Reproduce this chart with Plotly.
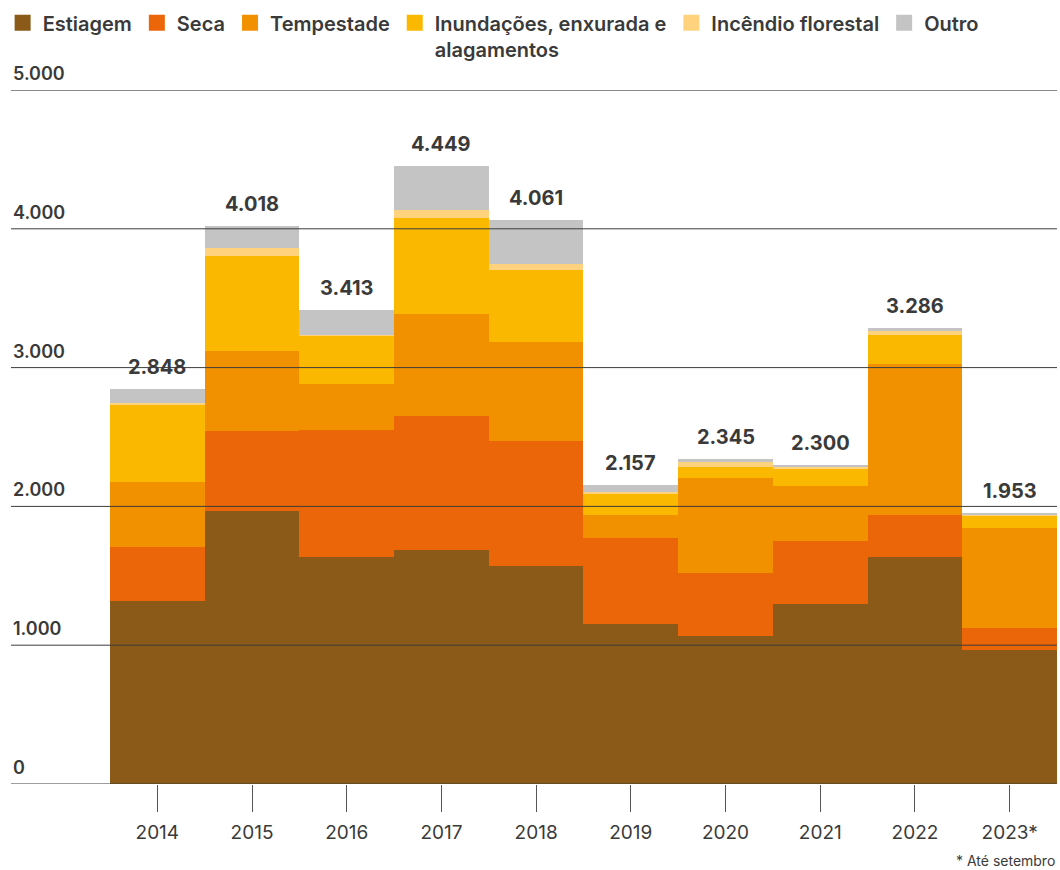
import plotly.graph_objects as go

anos = ["2014", "2015", "2016", "2017", "2018", "2019", "2020", "2021", "2022", "2023*"]
estiagem = [1317, 1964, 1633, 1683, 1568, 1152, 1066, 1295, 1633, 965]
seca = [388, 581, 920, 970, 906, 618, 452, 453, 302, 158]
tempestade = [474, 575, 330, 733, 711, 165, 690, 402, 1092, 718]
inundacoes = [553, 683, 345, 690, 517, 158, 79, 122, 208, 93]
incendio = [14, 57, 7, 57, 43, 14, 36, 15, 29, 5]
outro = [102, 158, 178, 316, 316, 50, 22, 13, 22, 14]
totais = [2848, 4018, 3413, 4449, 4061, 2157, 2345, 2300, 3286, 1953]

y_ticks = [0, 1000, 2000, 3000, 4000, 5000]
y_labels = ["0", "1.000", "2.000", "3.000", "4.000", "5.000"]

series = [
    ("Estiagem", estiagem, "#8B5A18"),
    ("Seca", seca, "#EB6608"),
    ("Tempestade", tempestade, "#F29100"),
    ("Inundações, enxurada e<br>alagamentos", inundacoes, "#FBB800"),
    ("Incêndio florestal", incendio, "#FFD37E"),
    ("Outro", outro, "#C4C4C4"),
]

txt = "#3a3a3a"
font = "Inter"

fig = go.Figure()
for nome, vals, cor in series:
    fig.add_trace(go.Bar(x=anos, y=vals, marker=dict(color=cor, line=dict(width=0)),
                         showlegend=False, hoverinfo="skip"))
# legend entries with larger square swatches
for nome, vals, cor in series:
    fig.add_trace(go.Scatter(x=[None], y=[None], mode="markers", name=nome,
                             marker=dict(symbol="square", size=16, color=cor)))

anns = []
# totals above the bars (x given as category index)
for i, t in enumerate(totais):
    anns.append(dict(x=i, y=t, text="<b>" + f"{t:,}".replace(",", ".") + "</b>",
                     showarrow=False, yanchor="bottom", yshift=8,
                     font=dict(family=font, size=20, color=txt)))
for v, lab in zip(y_ticks, y_labels):
    anns.append(dict(x=0, xref="paper", y=v, text=lab, showarrow=False,
                     xanchor="left", yanchor="bottom", yshift=4,
                     font=dict(family=font, size=18, color=txt, weight=600)))
anns.append(dict(x=1, xref="paper", y=0, yref="paper", text="* Até setembro",
                 showarrow=False, xanchor="right", yanchor="top", yshift=-66,
                 font=dict(family=font, size=14, color=txt)))

shapes = []
for v in y_ticks:
    shapes.append(dict(type="line", xref="paper", x0=0, x1=1, y0=v, y1=v, layer="above",
                       line=dict(color="#8a8a8a" if v == 5000 else "#3c3c3c",
                                 width=2 if v == 5000 else 1)))

fig.update_layout(
    width=1060, height=870,
    barmode="stack", bargap=0,
    plot_bgcolor="white", paper_bgcolor="white",
    margin=dict(l=10, r=3, t=88, b=86),
    font=dict(family=font, color=txt),
    legend=dict(orientation="h", x=-0.008, y=1.125, xanchor="left", yanchor="top",
                font=dict(family=font, size=20, color=txt, weight=600),
                valign="top", itemwidth=30, traceorder="normal"),
    annotations=anns, shapes=shapes,
    xaxis=dict(type="category", range=[-1.545, 9.5], showgrid=False, showline=False,
               ticks="outside", ticklen=27, tickcolor="#555", tickwidth=1,
               tickfont=dict(family=font, size=19, color=txt), ticklabelstandoff=4),
    yaxis=dict(range=[0, 5000], showgrid=False, zeroline=False, showticklabels=False,
               showline=False),
)

fig.write_html("out.html", config={"displayModeBar": False},
               post_script="document.body.style.margin='0';")
